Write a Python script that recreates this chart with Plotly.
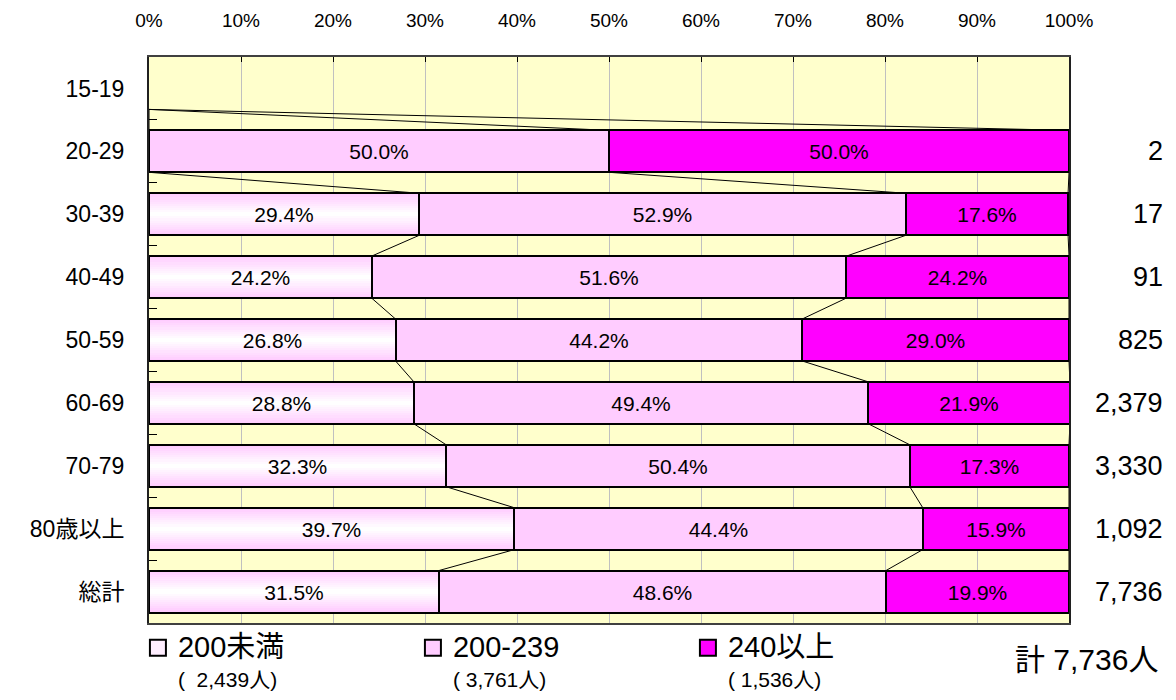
import plotly.graph_objects as go

# age groups (top to bottom)
ages = ['15-19', '20-29', '30-39', '40-49', '50-59', '60-69', '70-79', '80歳以上', '総計']
counts = ['', '2', '17', '91', '825', '2,379', '3,330', '1,092', '7,736']

# percentage share per band
under200 = [None, 0.0, 29.4, 24.2, 26.8, 28.8, 32.3, 39.7, 31.5]
mid = [None, 50.0, 52.9, 51.6, 44.2, 49.4, 50.4, 44.4, 48.6]
over240 = [None, 50.0, 17.6, 24.2, 29.0, 21.9, 17.3, 15.9, 19.9]

series_names = ['200未満', '200-239', '240以上']
series_totals = ['(  2,439人)', '( 3,761人)', '( 1,536人)']
grand_total = '計 7,736人'

FONT = 'Liberation Sans, Arial, Noto Sans CJK JP'
PINK = '#FFCCFF'
MAGENTA = '#FF00FF'
BAR_W = 0.667

pos = list(range(len(ages)))
base2 = list(under200)
base3 = [(a + b) if a is not None else None for a, b in zip(under200, mid)]


def pct(v):
    if v is None or v == 0:
        return ''
    return '%.1f%%' % v


fig = go.Figure()

# series lines between neighbouring bars
bounds = []
for i in pos:
    a = under200[i] or 0
    b = mid[i] or 0
    c = over240[i] or 0
    bounds.append([a, a + b, a + b + c])

lx, ly = [], []
for i in pos[:-1]:
    for k in range(3):
        lx += [bounds[i][k], bounds[i + 1][k], None]
        ly += [i + BAR_W / 2, i + 1 - BAR_W / 2, None]
fig.add_trace(go.Scatter(x=lx, y=ly, mode='lines', line=dict(color='black', width=1),
                         showlegend=False, hoverinfo='skip', cliponaxis=False))

# gradient-looking first segment: stacked bands pink -> white
n_layers = 10
for k in range(n_layers):
    t = k / (n_layers - 1)
    g = int(0xCC + (0xFF - 0xCC) * t)
    col = 'rgb(255,%d,255)' % g
    fig.add_trace(go.Bar(
        y=pos, x=under200, base=0, orientation='h',
        width=BAR_W * (1 - k / n_layers),
        marker=dict(color=col, line=dict(width=0)),
        showlegend=False, hoverinfo='skip'
    ))

label_font = dict(family=FONT, size=21, color='black')

# outlines and labels
fig.add_trace(go.Bar(
    y=pos, x=under200, base=0, orientation='h', width=BAR_W,
    marker=dict(color='rgba(0,0,0,0)', line=dict(color='black', width=2)),
    text=[pct(v) for v in under200], textposition='inside', insidetextanchor='middle',
    textangle=0, textfont=label_font, showlegend=False
))
fig.add_trace(go.Bar(
    y=pos, x=mid, base=base2, orientation='h', width=BAR_W,
    marker=dict(color=PINK, line=dict(color='black', width=2)),
    text=[pct(v) for v in mid], textposition='inside', insidetextanchor='middle',
    textangle=0, textfont=label_font, showlegend=False
))
fig.add_trace(go.Bar(
    y=pos, x=over240, base=base3, orientation='h', width=BAR_W,
    marker=dict(color=MAGENTA, line=dict(color='black', width=2)),
    text=[pct(v) for v in over240], textposition='inside', insidetextanchor='middle',
    textangle=0, textfont=label_font, showlegend=False
))

# legend entries
for name, tot, col in zip(series_names, series_totals, ['#FFEEFF', PINK, MAGENTA]):
    fig.add_trace(go.Scatter(
        x=[None], y=[None], mode='markers',
        marker=dict(symbol='square', size=18, color=col, line=dict(color='black', width=2)),
        name="<span style='font-size:29px'>" + name + "</span><br>"
             "<span style='font-size:21px'>" + tot + '</span>'
    ))

# counts at right
for i, c in zip(pos, counts):
    if c:
        fig.add_annotation(x=1.104, y=i, xref='paper', yref='y', text=c, showarrow=False,
                           xanchor='right', font=dict(family=FONT, size=27, color='black'))

fig.add_annotation(x=1.099, y=-0.065, xref='paper', yref='paper', text=grand_total,
                   showarrow=False, xanchor='right', yanchor='middle',
                   font=dict(family=FONT, size=30, color='black'))

fig.update_layout(
    width=1160, height=684,
    margin=dict(l=141, r=99, t=49, b=69),
    paper_bgcolor='white', plot_bgcolor='#FFFFCC',
    barmode='overlay', bargap=0,
    font=dict(family=FONT, color='black'),
    legend=dict(orientation='h', xref='container', yref='container',
                x=0.112, y=0.096, xanchor='left', yanchor='top',
                entrywidth=230, valign='top', font=dict(family=FONT, size=23),
                bgcolor='rgba(0,0,0,0)', itemsizing='trace'),
)
fig.update_xaxes(
    side='top', range=[0, 100], dtick=10, ticksuffix='%',
    showgrid=True, gridcolor='#C0C0C0', gridwidth=1,
    ticks='inside', ticklen=5, tickcolor='black',
    showline=True, linecolor='#404040', linewidth=1.5, mirror=True,
    tickfont=dict(family=FONT, size=19), ticklabelstandoff=21, zeroline=False,
    automargin=False
)
fig.update_yaxes(
    range=[len(ages) - 0.5, -0.5], tickmode='array', tickvals=pos, ticktext=ages,
    ticks='', showgrid=False, zeroline=False,
    minor=dict(tickmode='array', tickvals=[i + 0.5 for i in pos[:-1]],
               ticks='inside', ticklen=8, tickcolor='black', showgrid=False),
    showline=True, linecolor='#202020', linewidth=2, mirror=True,
    tickfont=dict(family=FONT, size=23), ticklabelstandoff=18, automargin=False
)

fig.write_html('out.html')
